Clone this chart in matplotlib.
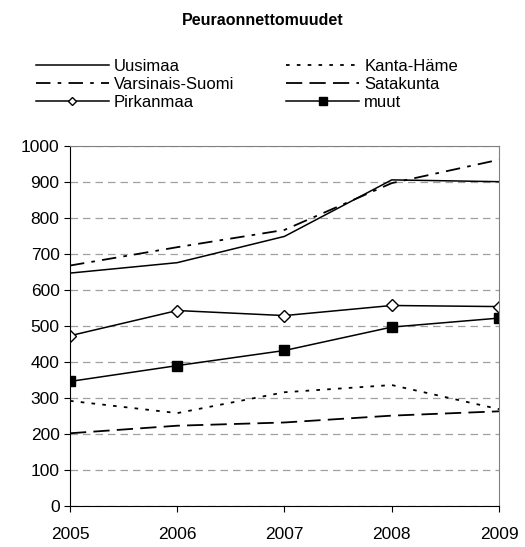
import matplotlib.pyplot as plt
from matplotlib.ticker import MultipleLocator

plt.rcParams['font.family'] = ['Liberation Sans', 'DejaVu Sans']

vuodet = [2005, 2006, 2007, 2008, 2009]
uusimaa = [647, 676, 749, 906, 901]
kanta_hame = [292, 258, 316, 336, 269]
varsinais_suomi = [668, 719, 767, 897, 962]
satakunta = [202, 223, 232, 251, 263]
pirkanmaa = [473, 543, 529, 557, 554]
muut = [346, 390, 432, 497, 522]

fig = plt.figure(figsize=(5.25, 5.47), dpi=100)
ax = fig.add_axes([0.1333, 0.075, 0.8172, 0.658])

l1, = ax.plot(vuodet, uusimaa, color='black', lw=1.1, label='Uusimaa')
l2, = ax.plot(vuodet, kanta_hame, color='black', lw=1.3, linestyle=(0, (2, 4)), label='Kanta-Häme')
l3, = ax.plot(vuodet, varsinais_suomi, color='black', lw=1.3, linestyle=(0, (8, 4, 2, 4)), label='Varsinais-Suomi')
l4, = ax.plot(vuodet, satakunta, color='black', lw=1.3, linestyle=(0, (9, 4)), label='Satakunta')
l5, = ax.plot(vuodet, pirkanmaa, color='black', lw=1.1, marker='D', markersize=6,
              markerfacecolor='white', markeredgecolor='black', label='Pirkanmaa')
l6, = ax.plot(vuodet, muut, color='black', lw=1.1, marker='s', markersize=7.5,
              markerfacecolor='black', label='muut')

ax.set_xlim(2005, 2009)
ax.set_ylim(0, 1000)
ax.set_xticks(vuodet)
ax.yaxis.set_major_locator(MultipleLocator(100))
ax.grid(axis='y', color='#a0a0a0', linestyle=(0, (6, 4)), lw=0.9)
ax.set_axisbelow(True)
for s in ['top', 'right']:
    ax.spines[s].set_color('#808080')
ax.tick_params(labelsize=12.5, length=4, color='black')
ax.tick_params(axis='x', pad=11)

fig.text(0.5, 0.963, 'Peuraonnettomuudet', ha='center', va='center',
         fontsize=11.5, fontweight='bold')

# rivit järjestykseen kuten alkuperäisessä
kahvat = [l1, l3, l5, l2, l4, l6]
fig.legend(kahvat, [h.get_label() for h in kahvat], loc='upper left',
           bbox_to_anchor=(0.055, 0.905), ncol=2, frameon=False,
           fontsize=12, handlelength=4.4, handletextpad=0.3, columnspacing=3.1,
           labelspacing=0.18, borderaxespad=0, markerscale=0.75)

plt.savefig('out.png', dpi=100)
